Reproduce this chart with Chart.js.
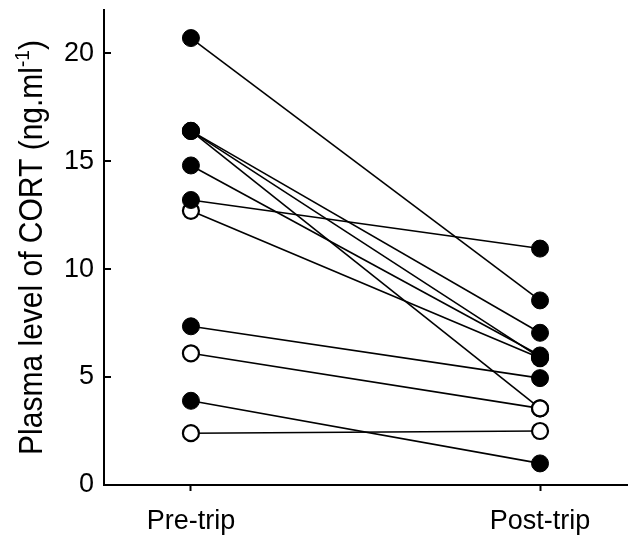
<!DOCTYPE html>
<html>
<head>
<meta charset="utf-8">
<script src="https://cdn.jsdelivr.net/npm/chart.js@4/dist/chart.umd.min.js"></script>
<style>
  html, body { margin: 0; padding: 0; background: #fff; }
  #wrap { width: 628px; height: 537px; position: relative; }
</style>
</head>
<body>
<div id="wrap"><canvas id="chartCort"></canvas></div>
<script>
// plasma CORT, pre vs post trip, one line per animal

const GROUPS = ["Pre-trip", "Post-trip"];
const PRE_TRIP = [20.7, 16.4, 16.4, 16.4, 14.8, 13.2, 12.7, 7.35, 6.1, 3.9, 2.4];
const POST_TRIP = [8.55, 7.05, 5.9, 3.55, 6.0, 10.95, 5.88, 4.95, 3.55, 1.0, 2.5];
const OPEN_MARKER = [false, false, false, true, false, false, true, false, true, false, true];
const Y_TICKS = [0, 5, 10, 15, 20];

const FONT = "'Liberation Sans', Arial, sans-serif";
Chart.defaults.font.family = FONT;
Chart.defaults.color = "#000";

// y ticks point into the plot, so draw them by hand
const inwardTicks = {
  id: "inwardTicks",
  afterDatasetsDraw(chart) {
    const y = chart.scales.y;
    const { ctx, chartArea } = chart;
    ctx.save();
    ctx.strokeStyle = "#000";
    ctx.lineWidth = 2;
    Y_TICKS.forEach((v) => {
      const py = Math.round(y.getPixelForValue(v));
      ctx.beginPath();
      ctx.moveTo(chartArea.left, py);
      ctx.lineTo(chartArea.left + 7, py);
      ctx.stroke();
    });
    ctx.restore();
  },
};

// rotated axis title with the superscript -1
const yTitle = {
  id: "yTitle",
  afterDraw(chart) {
    const { ctx, chartArea } = chart;
    const main = "Plasma level of CORT (ng.ml";
    const sup = "-1";
    const end = ")";
    ctx.save();
    ctx.translate(42, (chartArea.top + chartArea.bottom) / 2);
    ctx.rotate(-Math.PI / 2);
    ctx.scale(1, 1.1);
    ctx.fillStyle = "#000";
    ctx.textBaseline = "alphabetic";
    ctx.font = `30px ${FONT}`;
    const wMain = ctx.measureText(main).width;
    const wEnd = ctx.measureText(end).width;
    ctx.font = `19px ${FONT}`;
    const wSup = ctx.measureText(sup).width;
    let x = -(wMain + wSup + wEnd) / 2;
    ctx.font = `30px ${FONT}`;
    ctx.fillText(main, x, 0);
    x += wMain;
    ctx.font = `19px ${FONT}`;
    ctx.fillText(sup, x, -12);
    x += wSup;
    ctx.font = `30px ${FONT}`;
    ctx.fillText(end, x, 0);
    ctx.restore();
  },
};

const lineSets = PRE_TRIP.map((pre, i) => ({
  type: "line",
  data: [
    { x: 1, y: pre },
    { x: 2, y: POST_TRIP[i] },
  ],
  borderColor: "#000",
  borderWidth: 1.6,
  pointRadius: 0,
  fill: false,
  order: 3,
}));

function markerPoints(open) {
  const pts = [];
  PRE_TRIP.forEach((pre, i) => {
    if (OPEN_MARKER[i] !== open) return;
    pts.push({ x: 1, y: pre });
    pts.push({ x: 2, y: POST_TRIP[i] });
  });
  return pts;
}

const openSet = {
  type: "scatter",
  data: markerPoints(true),
  backgroundColor: "#fff",
  borderColor: "#000",
  borderWidth: 2.2,
  pointRadius: 8,
  order: 2,
};

const filledSet = {
  type: "scatter",
  data: markerPoints(false),
  backgroundColor: "#000",
  borderColor: "#000",
  borderWidth: 1,
  pointRadius: 8.5,
  order: 1,
};

new Chart(document.getElementById("chartCort"), {
  type: "scatter",
  data: { datasets: [filledSet, openSet, ...lineSets] },
  options: {
    responsive: true,
    maintainAspectRatio: false,
    animation: false,
    clip: false,
    layout: { autoPadding: false, padding: { top: 10, right: 0, left: 0, bottom: 0 } },
    plugins: { legend: { display: false }, tooltip: { enabled: false } },
    scales: {
      x: {
        type: "linear",
        min: 0.751,
        max: 2.252,
        afterBuildTicks: (s) => {
          s.ticks = GROUPS.map((_, i) => ({ value: i + 1 }));
        },
        afterFit: (s) => {
          s.height = 52;
          s.paddingLeft = 0;
          s.paddingRight = 0;
        },
        ticks: {
          callback: (v) => GROUPS[v - 1] || "",
          font: { size: 27 },
          padding: 14,
          maxRotation: 0,
        },
        grid: {
          drawOnChartArea: false,
          drawTicks: true,
          tickLength: 6,
          tickWidth: 2,
          tickColor: "#000",
          color: "#000",
        },
        border: { display: true, color: "#000", width: 2 },
      },
      y: {
        min: 0,
        max: 22,
        afterBuildTicks: (s) => {
          s.ticks = Y_TICKS.map((v) => ({ value: v }));
        },
        afterFit: (s) => {
          s.width = 104;
          s.paddingTop = 0;
          s.paddingBottom = 0;
        },
        ticks: { font: { size: 27 }, padding: 10 },
        grid: { drawOnChartArea: false, drawTicks: false },
        border: { display: true, color: "#000", width: 2 },
      },
    },
  },
  plugins: [inwardTicks, yTitle],
});
</script>
</body>
</html>
